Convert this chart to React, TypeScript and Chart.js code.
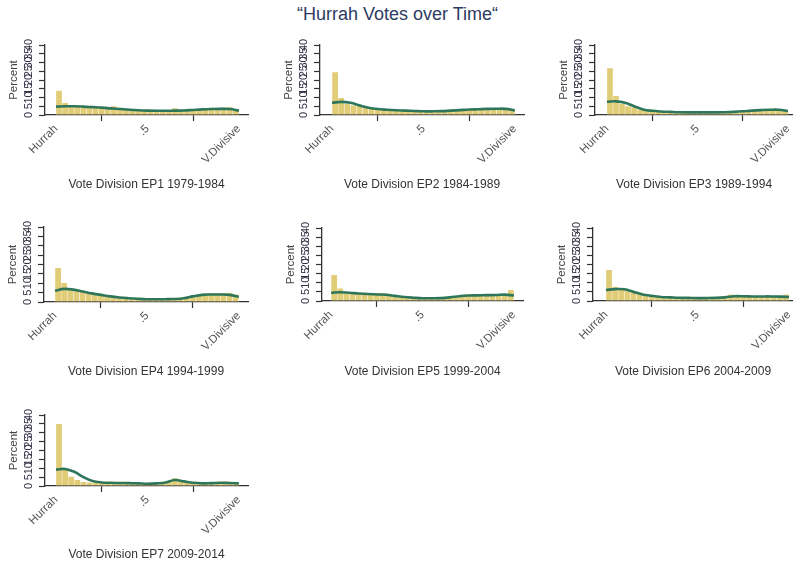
import React, { useEffect, useRef } from 'react';
import { Chart, registerables } from 'chart.js';

Chart.register(...registerables);

// ---------------- DATA ----------------
const chartTitle = '“Hurrah Votes over Time“';
const panelTitles = [
  'Vote Division EP1 1979-1984',
  'Vote Division EP2 1984-1989',
  'Vote Division EP3 1989-1994',
  'Vote Division EP4 1994-1999',
  'Vote Division EP5 1999-2004',
  'Vote Division EP6 2004-2009',
  'Vote Division EP7 2009-2014',
];
const yAxisTitle = 'Percent';
const xTickValues = [0, 0.5, 1];
const xTickLabels = ['Hurrah', '.5', 'V.Divisive'];
const yTickValues = [0, 5, 10, 15, 20, 25, 30, 35, 40];
const binCount = 30;

// histogram bars (percent per bin, 30 bins from Hurrah to V.Divisive)
const ep1Bars = [13.9, 6.9, 5.3, 5.0, 4.8, 4.5, 4.6, 4.3, 4.0, 5.0, 4.2, 3.6, 3.0, 2.8, 2.5, 2.6, 2.3, 2.4, 2.5, 3.8, 2.8, 3.0, 2.9, 3.2, 3.6, 4.2, 3.9, 4.3, 4.5, 3.2];
const ep2Bars = [24.4, 9.7, 6.3, 5.5, 5.0, 4.6, 3.8, 3.2, 3.0, 2.8, 2.6, 2.5, 2.3, 2.1, 2.0, 2.0, 2.1, 2.2, 2.4, 2.6, 2.8, 3.0, 3.2, 3.3, 3.4, 3.5, 3.6, 4.0, 3.6, 2.8];
const ep3Bars = [26.7, 11.0, 6.3, 5.0, 4.5, 3.2, 2.6, 2.2, 2.0, 1.8, 1.7, 1.6, 1.5, 1.5, 1.6, 1.5, 1.4, 1.5, 1.6, 1.7, 1.9, 2.0, 2.2, 2.5, 2.7, 3.0, 3.1, 3.2, 3.5, 3.0];
const ep4Bars = [18.2, 10.2, 6.6, 6.0, 5.4, 4.8, 4.3, 3.6, 3.2, 3.0, 2.6, 2.2, 1.9, 1.8, 1.6, 1.5, 1.5, 1.6, 1.5, 1.6, 1.8, 2.5, 3.0, 4.0, 4.6, 4.8, 4.6, 4.8, 4.9, 4.0];
const ep5Bars = [14.2, 6.9, 5.0, 4.8, 4.6, 4.5, 4.4, 4.2, 4.3, 4.0, 3.2, 2.6, 2.2, 1.9, 1.7, 1.6, 1.5, 1.6, 1.8, 2.2, 2.8, 3.4, 3.6, 3.4, 3.2, 3.3, 3.4, 3.5, 3.8, 6.0];
const ep6Bars = [17.0, 7.8, 7.0, 6.0, 5.2, 4.6, 3.6, 3.0, 2.8, 2.4, 2.1, 1.9, 1.8, 1.7, 1.6, 1.5, 1.6, 1.7, 1.8, 2.2, 3.5, 3.2, 2.8, 2.6, 2.5, 2.6, 2.5, 2.6, 2.7, 3.5];
const ep7Bars = [35.0, 10.0, 5.3, 3.4, 2.3, 2.0, 1.8, 1.7, 1.6, 1.5, 1.5, 1.4, 1.3, 1.3, 1.4, 1.5, 1.7, 2.2, 3.0, 4.4, 3.0, 2.0, 1.5, 1.4, 1.6, 1.8, 1.9, 1.8, 1.6, 1.4];

// kernel density (percent scale) read at these x positions
const densityX = [0, 0.05, 0.1, 0.15, 0.2, 0.25, 0.3, 0.35, 0.4, 0.45, 0.5, 0.55, 0.6, 0.65, 0.7, 0.75, 0.8, 0.85, 0.9, 0.95, 1];
const ep1Density = [4.8, 5.0, 5.0, 4.8, 4.5, 4.2, 3.8, 3.4, 3.0, 2.7, 2.5, 2.4, 2.4, 2.5, 2.6, 2.9, 3.2, 3.4, 3.5, 3.4, 2.5];
const ep2Density = [7.0, 7.5, 7.0, 5.5, 4.2, 3.4, 3.0, 2.7, 2.5, 2.3, 2.1, 2.1, 2.2, 2.5, 2.8, 3.1, 3.3, 3.5, 3.6, 3.5, 2.6];
const ep3Density = [7.6, 7.8, 7.0, 5.0, 3.2, 2.4, 2.0, 1.8, 1.6, 1.5, 1.5, 1.5, 1.5, 1.6, 1.8, 2.1, 2.5, 2.8, 3.0, 3.0, 2.2];
const ep4Density = [6.0, 7.0, 6.6, 5.6, 4.6, 3.8, 3.0, 2.4, 2.0, 1.7, 1.5, 1.5, 1.5, 1.6, 2.0, 3.0, 3.8, 4.0, 4.0, 3.8, 2.8];
const ep5Density = [4.5, 4.8, 4.5, 4.1, 3.8, 3.6, 3.4, 2.8, 2.2, 1.8, 1.5, 1.5, 1.6, 2.0, 2.6, 3.0, 3.1, 3.2, 3.3, 3.5, 3.0];
const ep6Density = [6.0, 6.5, 6.4, 5.0, 3.6, 2.8, 2.2, 2.0, 1.8, 1.7, 1.6, 1.6, 1.7, 2.0, 2.6, 2.6, 2.5, 2.5, 2.5, 2.4, 2.2];
const ep7Density = [9.2, 9.6, 8.0, 5.0, 2.8, 2.0, 1.8, 1.7, 1.6, 1.5, 1.3, 1.5, 2.0, 3.4, 2.6, 1.8, 1.5, 1.6, 1.8, 1.7, 1.5];

const allBars = [ep1Bars, ep2Bars, ep3Bars, ep4Bars, ep5Bars, ep6Bars, ep7Bars];
const allDensity = [ep1Density, ep2Density, ep3Density, ep4Density, ep5Density, ep6Density, ep7Density];

// ---------------- LAYOUT ----------------
const layouts = [
  { plotLeft: 45, plotRight: 248, plotTop: 45, plotBottom: 115, captionY: 185, xMin: -0.06, xMax: 1.05 },
  { plotLeft: 320, plotRight: 524, plotTop: 45, plotBottom: 115, captionY: 185, xMin: -0.066, xMax: 1.05 },
  { plotLeft: 595, plotRight: 793, plotTop: 45, plotBottom: 115, captionY: 185, xMin: -0.066, xMax: 1.028 },
  { plotLeft: 44, plotRight: 248, plotTop: 227, plotBottom: 302, captionY: 372, xMin: -0.06, xMax: 1.05 },
  { plotLeft: 322, plotRight: 523, plotTop: 228, plotBottom: 301, captionY: 372, xMin: -0.05, xMax: 1.05 },
  { plotLeft: 593, plotRight: 793, plotTop: 228, plotBottom: 301, captionY: 372, xMin: -0.071, xMax: 1.022 },
  { plotLeft: 45, plotRight: 248, plotTop: 415, plotBottom: 486, captionY: 555, xMin: -0.06, xMax: 1.05 },
];

const Y_AXIS_W = 45;
const PAD_TOP = 12;
const PAD_RIGHT = 10;
const FONT = '"Liberation Sans", Arial, Helvetica, sans-serif';

Chart.defaults.font.family = FONT;

function Panel({ index }: { index: number }) {
  const ref = useRef<HTMLCanvasElement | null>(null);
  const L = layouts[index];
  const left = L.plotLeft - Y_AXIS_W;
  const top = L.plotTop - PAD_TOP;
  const width = L.plotRight - left + PAD_RIGHT;
  const height = L.captionY + 8 - top;
  const xAxisH = L.captionY + 8 - L.plotBottom;

  useEffect(() => {
    if (!ref.current) return;
    const bars = allBars[index];
    const dens = allDensity[index];
    const barData = bars.map((v, i) => ({ x: (i + 0.5) / binCount, y: v }));
    const densData = dens.map((v, i) => ({ x: densityX[i], y: v }));
    const chart = new Chart(ref.current, {
      type: 'bar',
      data: {
        datasets: [
          {
            type: 'line',
            data: densData,
            borderColor: '#2e765a',
            borderWidth: 2.6,
            pointRadius: 0,
            tension: 0.4,
            fill: false,
            order: 0,
          } as any,
          {
            type: 'bar',
            data: barData,
            backgroundColor: '#e1cd78',
            borderColor: 'rgba(255,255,255,0.7)',
            borderWidth: { left: 0.5, right: 0.5, top: 0, bottom: 0 },
            barPercentage: 1,
            categoryPercentage: 1,
            grouped: false,
            order: 1,
          } as any,
        ],
      },
      options: {
        responsive: false,
        animation: false,
        events: [],
        layout: { padding: { top: PAD_TOP, right: PAD_RIGHT, left: 0, bottom: 0 } },
        plugins: { legend: { display: false }, tooltip: { enabled: false }, title: { display: false } },
        scales: {
          x: {
            type: 'linear',
            min: L.xMin,
            max: L.xMax,
            offset: false,
            afterBuildTicks: (scale: any) => {
              scale.ticks = xTickValues.map((v) => ({ value: v }));
            },
            afterFit: (scale: any) => {
              scale.height = xAxisH;
            },
            ticks: {
              autoSkip: false,
              minRotation: 45,
              maxRotation: 45,
              padding: 1,
              color: '#555',
              font: { size: 11.5, family: FONT },
              callback: (value: any) => {
                const i = xTickValues.indexOf(Number(value));
                return i >= 0 ? xTickLabels[i] : '';
              },
            },
            grid: { display: true, drawOnChartArea: false, drawTicks: true, tickLength: 6, color: '#333', tickWidth: 1.2 },
            border: { display: true, color: '#333', width: 1.3 },
            title: {
              display: true,
              text: panelTitles[index],
              color: '#333',
              font: { size: 12, family: FONT },
              padding: { top: 0, bottom: 1 },
            },
          },
          y: {
            type: 'linear',
            min: 0,
            max: 40,
            afterBuildTicks: (scale: any) => {
              scale.ticks = yTickValues.map((v) => ({ value: v }));
            },
            afterFit: (scale: any) => {
              scale.width = Y_AXIS_W;
            },
            ticks: {
              autoSkip: false,
              minRotation: 90,
              maxRotation: 90,
              crossAlign: 'center',
              padding: 4,
              color: '#352f45',
              font: { size: 11, family: FONT },
            },
            grid: { display: true, drawOnChartArea: false, drawTicks: true, tickLength: 6, color: '#333', tickWidth: 1.2 },
            border: { display: true, color: '#333', width: 1.3 },
            title: {
              display: true,
              text: yAxisTitle,
              color: '#444',
              font: { size: 11.5, family: FONT },
              padding: { top: 7, bottom: 0 },
            },
          },
        },
      } as any,
    });
    return () => chart.destroy();
  }, [index]);

  return (
    <canvas
      ref={ref}
      width={width}
      height={height}
      style={{ position: 'absolute', left, top, width, height }}
    />
  );
}

export default function App() {
  return (
    <div
      style={{
        position: 'fixed',
        left: 0,
        top: 0,
        width: 793,
        height: 565,
        overflow: 'hidden',
        background: '#fff',
      }}
    >
      <div
        style={{
          position: 'absolute',
          left: 0,
          top: 3,
          width: 795,
          textAlign: 'center',
          fontFamily: FONT,
          fontSize: 18,
          lineHeight: '22px',
          color: '#2d3a63',
        }}
      >
        {chartTitle}
      </div>
      {layouts.map((_, i) => (
        <Panel key={i} index={i} />
      ))}
    </div>
  );
}
